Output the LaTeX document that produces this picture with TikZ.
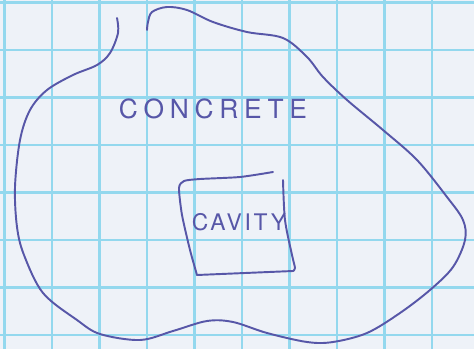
\documentclass[tikz,border=0pt]{standalone}
\usepackage{fontspec}
\newfontfamily\penfont[LetterSpace=22]{TeX Gyre Heros}
\newfontfamily\smallpenfont[LetterSpace=12]{TeX Gyre Heros}
\definecolor{paper}{HTML}{EEF2F8}
\definecolor{gridblue}{HTML}{93D8EE}
\definecolor{penblue}{HTML}{5757A8}
\usetikzlibrary{positioning}
\tikzset{
	gridline/.style={gridblue, line width=1.2pt}
}
\tikzset{
	penline/.style={penblue, line width=1.1pt, line cap=round, line join=round},
	pentext/.style={penblue, font=\penfont\fontsize{15}{15}\selectfont}
}

\begin{document}
\begin{tikzpicture}[x=0.02cm, y=-0.02cm]
      \useasboundingbox (0,0) rectangle (474,349);
      \fill[paper] (0,0) rectangle (474,349);
      % squared paper
      \foreach \gx in {4.5,52,...,474}
        \draw[gridline] (\gx,0) -- (\gx,349);
      \foreach \gy in {2.5,50,...,349}
        \draw[gridline] (0,\gy) -- (474,\gy);
      % outer outline of the concrete, open at the top
      \draw[penline] plot[smooth, tension=0.55] coordinates {
        (117,18) (118,33) (110,53) (97,65) (73,75) (47,90) (30,110)
        (20,140) (15,187) (17,227) (24,255) (43,293) (77,320) (100,334)
        (140,340) (173,331) (207,321) (233,322) (267,333) (307,342)
        (333,342) (367,333) (400,313) (430,290) (453,267) (465,240)
        (463,220) (447,197) (417,160) (383,130) (347,100) (323,77)
        (307,57) (283,38) (247,32) (213,22) (187,10) (167,7) (152,12)
        (148,22) (147,30)};
      % the cavity
      \draw[penline] plot[smooth, tension=0.4] coordinates {
        (273,172) (240,177) (200,179) (184,181) (179,188) (182,215)
        (190,250) (197,275)};
      \draw[penline] (197,275) -- (293,271);
      \draw[penline] plot[smooth, tension=0.5] coordinates {
        (283,180) (285,220) (292,255) (295,268) (293,271)};
      \node[pentext] (concrete) at (213,109) {CONCRETE};
      \node[pentext, font=\smallpenfont\fontsize{13}{13}\selectfont] (cavity) at (239,222) {CAVITY};
    \end{tikzpicture}
\end{document}
